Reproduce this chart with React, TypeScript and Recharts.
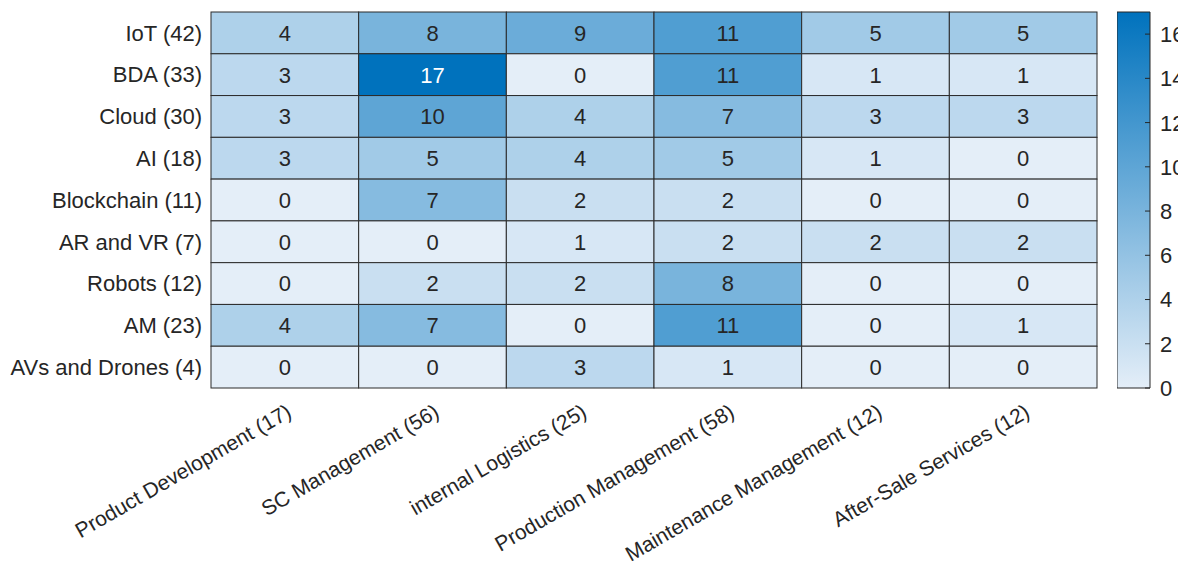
import React from "react";
import { ScatterChart, Scatter, XAxis, YAxis, BarChart, Bar } from "recharts";

const technologies = [
  "IoT (42)",
  "BDA (33)",
  "Cloud (30)",
  "AI (18)",
  "Blockchain (11)",
  "AR and VR (7)",
  "Robots (12)",
  "AM (23)",
  "AVs and Drones (4)",
];

const areas = [
  "Product Development (17)",
  "SC Management (56)",
  "internal Logistics (25)",
  "Production Management (58)",
  "Maintenance Management (12)",
  "After-Sale Services (12)",
];

// one row per technology, one value per area
const counts = [
  [4, 8, 9, 11, 5, 5],
  [3, 17, 0, 11, 1, 1],
  [3, 10, 4, 7, 3, 3],
  [3, 5, 4, 5, 1, 0],
  [0, 7, 2, 2, 0, 0],
  [0, 0, 1, 2, 2, 2],
  [0, 2, 2, 8, 0, 0],
  [4, 7, 0, 11, 0, 1],
  [0, 0, 3, 1, 0, 0],
];

const colorbarTicks = [0, 2, 4, 6, 8, 10, 12, 14, 16];
const colorMax = 17;

const FONT = "'Liberation Sans', Arial, Helvetica, sans-serif";
const TEXT = "#262626";
const FS = 22;

const W = 1170;
const H = 561;
const margin = { top: 4, right: 81, bottom: 0, left: 0 };
const Y_AXIS_W = 203;
const X_AXIS_H = 181;
const PLOT_W = W - margin.left - margin.right - Y_AXIS_W;
const PLOT_H = H - margin.top - margin.bottom - X_AXIS_H;
const CELL_W = PLOT_W / areas.length;
const CELL_H = PLOT_H / technologies.length;

const LOW = [228, 238, 248];
const HIGH = [0, 114, 189];

function colorFor(v: number) {
  const t = Math.max(0, Math.min(1, v / colorMax));
  const c = LOW.map((l, i) => Math.round(l + (HIGH[i] - l) * t));
  return `rgb(${c[0]},${c[1]},${c[2]})`;
}

const cells = counts.flatMap((row, r) =>
  row.map((v, c) => ({ x: c + 0.5, y: r + 0.5, v }))
);

const CellShape = (props: any) => {
  const { cx, cy, payload } = props;
  const v = payload.v;
  return (
    <g>
      <rect
        x={cx - CELL_W / 2}
        y={cy - CELL_H / 2}
        width={CELL_W}
        height={CELL_H}
        fill={colorFor(v)}
        stroke="#2b2b2b"
        strokeWidth={1}
      />
      <text
        x={cx}
        y={cy}
        dy="0.36em"
        textAnchor="middle"
        fontSize={FS}
        fontFamily={FONT}
        fill={v >= 14 ? "#fff" : TEXT}
      >
        {v}
      </text>
    </g>
  );
};

const AreaTick = (props: any) => {
  const { x, y, payload } = props;
  const idx = Math.round(payload.value - 0.5);
  const ax = x + 8;
  const ay = y + 28;
  return (
    <text
      x={ax}
      y={ay}
      transform={`rotate(-30, ${ax}, ${ay})`}
      textAnchor="end"
      fontSize={21}
      fontFamily={FONT}
      fill={TEXT}
    >
      {areas[idx]}
    </text>
  );
};

const BarTick = (props: any) => {
  const { x, y, payload } = props;
  return (
    <g>
      <line x1={x - 15} x2={x - 10} y1={y} y2={y} stroke="#262626" strokeWidth={1} />
      <text
        x={x}
        y={y}
        dy="0.36em"
        textAnchor="start"
        fontSize={FS}
        fontFamily={FONT}
        fill={TEXT}
      >
        {payload.value}
      </text>
    </g>
  );
};

export default function App() {
  return (
    <div
      style={{
        position: "relative",
        width: W,
        height: H,
        marginBottom: -8,
        background: "#fff",
      }}
    >
      <ScatterChart width={W} height={H} margin={margin}>
        <XAxis
          type="number"
          dataKey="x"
          domain={[0, areas.length]}
          ticks={areas.map((_, i) => i + 0.5)}
          axisLine={false}
          tickLine={false}
          tickSize={0}
          tickMargin={0}
          height={X_AXIS_H}
          interval={0}
          tick={<AreaTick />}
        />
        <YAxis
          type="number"
          dataKey="y"
          domain={[0, technologies.length]}
          reversed
          ticks={technologies.map((_, i) => i + 0.5)}
          tickFormatter={(v: number) => technologies[Math.round(v - 0.5)]}
          axisLine={false}
          tickLine={false}
          tickSize={0}
          tickMargin={9}
          width={Y_AXIS_W}
          interval={0}
          tick={{ fontSize: FS, fontFamily: FONT, fill: TEXT }}
        />
        <Scatter data={cells} shape={<CellShape />} isAnimationActive={false} />
      </ScatterChart>

      <div style={{ position: "absolute", left: W - margin.right + 20, top: 0 }}>
        <BarChart
          width={68}
          height={H}
          data={[{ name: "scale", v: colorMax }]}
          margin={{ top: margin.top, bottom: X_AXIS_H, left: 0, right: 0 }}
          barCategoryGap={0}
        >
          <defs>
            <linearGradient id="cbGrad" x1="0" y1="0" x2="0" y2="1">
              <stop offset="0%" stopColor={colorFor(colorMax)} />
              <stop offset="100%" stopColor={colorFor(0)} />
            </linearGradient>
          </defs>
          <XAxis dataKey="name" hide />
          <YAxis
            orientation="right"
            domain={[0, colorMax]}
            ticks={colorbarTicks}
            axisLine={false}
            tickLine={false}
            tickSize={0}
            tickMargin={10}
            width={35}
            interval={0}
            tick={<BarTick />}
          />
          <Bar
            dataKey="v"
            fill="url(#cbGrad)"
            stroke="#262626"
            strokeWidth={1}
            isAnimationActive={false}
          />
        </BarChart>
      </div>
    </div>
  );
}
